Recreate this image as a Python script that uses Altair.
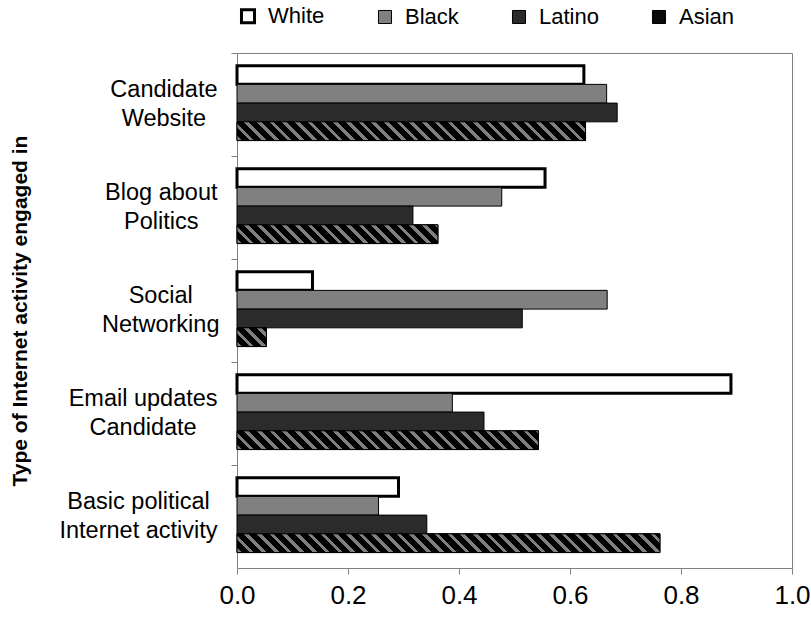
import altair as alt
import pandas as pd

# ---- data -------------------------------------------------------------
# Category labels (two lines each, "|" separates the lines)
activities = [
    "Candidate|Website",
    "Blog about|Politics",
    "Social|Networking",
    "Email updates|Candidate",
    "Basic political|Internet activity",
]
groups = ["White", "Black", "Latino", "Asian"]

white = [0.625, 0.555, 0.136, 0.890, 0.291]
black = [0.666, 0.477, 0.667, 0.388, 0.255]
latino = [0.685, 0.317, 0.514, 0.445, 0.342]
asian = [0.628, 0.362, 0.053, 0.543, 0.762]

x_ticks = [0.0, 0.2, 0.4, 0.6, 0.8, 1.0]

series = {"White": white, "Black": black, "Latino": latino, "Asian": asian}
rows = [
    {"activity": a, "group": g, "share": series[g][i]}
    for i, a in enumerate(activities)
    for g in groups
]
df = pd.DataFrame(rows)

# ---- layout / style ---------------------------------------------------
FONT = "Liberation Sans"
PLOT_W, PLOT_H = 555, 515
GROUP_PAD = 0.75                       # outer padding of the bar group, in bar steps
BAND = PLOT_H / len(activities)
BAR_H = BAND / (len(groups) + 2 * GROUP_PAD)

fills = ["#ffffff", "#808080", "#2b2b2b", "#0a0a0a"]
strokes = ["black", "black", "black", "black"]
stroke_widths = [3, 1, 1, 1]
HATCH_BG, HATCH_LINE = "#000000", "#7f7f7f"
HATCH_PERIOD = 12.7                    # horizontal stripe period, px
HATCH_SHARE = 0.36                     # share of the period drawn in grey

LABEL_SIZE = 23.5
LINE_H = 29
# Arial / Liberation Sans advance widths (em) for the label characters
ARIAL_W = {
    " ": .278, "B": .667, "C": .722, "E": .667, "I": .278, "N": .722, "P": .667,
    "S": .667, "W": .944, "a": .556, "b": .556, "c": .5, "d": .556, "e": .556,
    "g": .556, "i": .222, "k": .5, "l": .222, "m": .833, "n": .556, "o": .556,
    "p": .556, "r": .333, "s": .5, "t": .278, "u": .556, "v": .5, "y": .5,
}


def text_width(s, size):
    return sum(ARIAL_W.get(ch, .556) for ch in s) * size


def label_padding(cat):
    widest = max(text_width(line, LABEL_SIZE) for line in cat.split("|"))
    return round(14 + widest / 2, 1)


def hatch(value):
    """Diagonal black/grey stripes for one bar, as a bounding-box gradient."""
    w = value * PLOT_W
    h = BAR_H
    k = (w + h) / (w * w + h * h)
    step = HATCH_PERIOD / (w + h)
    grey = step * HATCH_SHARE
    stops = []
    t = 0.0
    while t < 1.0:
        a = min(t + grey, 1.0)
        b = min(t + step, 1.0)
        stops += [
            alt.GradientStop(offset=round(t, 5), color=HATCH_LINE),
            alt.GradientStop(offset=round(a, 5), color=HATCH_LINE),
            alt.GradientStop(offset=round(a, 5), color=HATCH_BG),
            alt.GradientStop(offset=round(b, 5), color=HATCH_BG),
        ]
        t += step
    return alt.LinearGradient(
        gradient="linear", x1=0, y1=1, x2=round(w * k, 5), y2=round(1 - h * k, 5),
        stops=stops,
    )


pad_cases = [{"test": f"datum.value === '{a}'", "value": label_padding(a)} for a in activities]

x_enc = alt.X(
    "share:Q",
    scale=alt.Scale(domain=[0, 1], nice=False, zero=True),
    axis=alt.Axis(
        values=x_ticks, format=".1f", title=None, grid=False, labelFlush=False,
        tickSize=6, tickColor="#808080", domainColor="#808080",
        labelFontSize=26, labelPadding=8, labelColor="black", labelFont=FONT,
    ),
)
y_enc = alt.Y(
    "activity:N",
    sort=activities,
    scale=alt.Scale(domain=activities, paddingInner=0, paddingOuter=0),
    axis=alt.Axis(
        title="Type of Internet activity engaged in",
        titleFont=FONT, titleFontSize=21, titleFontWeight="bold", titleColor="black",
        titleX=-211, titleY=PLOT_H / 2, titleAlign="center", titleBaseline="alphabetic",
        labelExpr="split(datum.value, '|')",
        labelFont=FONT, labelFontSize=LABEL_SIZE, labelColor="black",
        labelAlign="center", labelBaseline="middle", labelLineHeight=LINE_H,
        labelOffset=-LINE_H / 2,
        labelPadding={"condition": pad_cases, "value": 70},
        bandPosition=0, tickSize=6, tickColor="#808080", domainColor="#808080",
        labelLimit=300,
    ),
)
yoff_enc = alt.YOffset(
    "group:N",
    sort=groups,
    scale=alt.Scale(domain=groups, paddingInner=0, paddingOuter=GROUP_PAD, align=0.45),
)

legend_style = dict(
    title=None, orient="none", direction="horizontal",
    legendX=0, legendY=-48, padding=0,
    symbolType="square", symbolSize=170, symbolOpacity=1,
    labelFont=FONT, labelFontSize=22, labelColor="black",
    labelOffset=9, columnPadding=49,
)

bars = alt.Chart(df).mark_bar().encode(
    x=x_enc,
    y=y_enc,
    yOffset=yoff_enc,
    fill=alt.Fill(
        "group:N",
        scale=alt.Scale(domain=groups, range=fills),
        legend=alt.Legend(**legend_style),
    ),
    stroke=alt.Stroke(
        "group:N",
        scale=alt.Scale(domain=groups, range=strokes),
        legend=alt.Legend(**legend_style),
    ),
    strokeWidth=alt.StrokeWidth(
        "group:N",
        scale=alt.Scale(type="ordinal", domain=groups, range=stroke_widths),
        legend=alt.Legend(**legend_style),
    ),
)

# striped fill for the Asian bars, one gradient per bar
hatched = [
    alt.Chart(df)
    .transform_filter((alt.datum.group == "Asian") & (alt.datum.activity == a))
    .mark_bar(stroke="black", strokeWidth=1, fill=hatch(asian[i]))
    .encode(x=x_enc, y=y_enc, yOffset=yoff_enc)
    for i, a in enumerate(activities)
]

chart = (
    alt.layer(bars, *hatched)
    .properties(
        width=PLOT_W, height=PLOT_H,
        autosize=alt.AutoSizeParams(type="none"),
        padding={"left": 237, "top": 53, "right": 19, "bottom": 52},
        background="white",
    )
    .configure_view(stroke="#808080", strokeWidth=1)
)

chart.save("out.html", embed_options={"renderer": "svg", "actions": False})
